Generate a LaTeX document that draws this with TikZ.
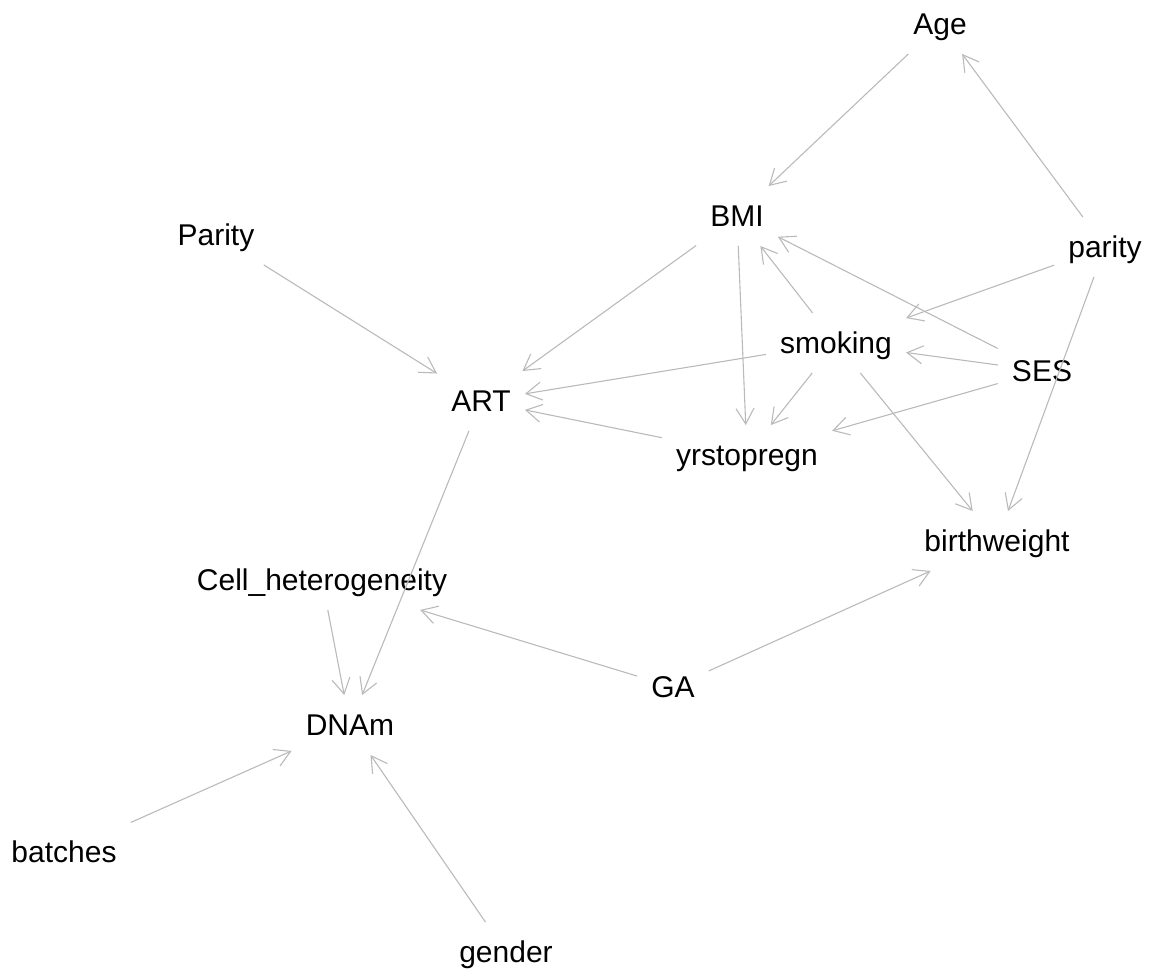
\documentclass[tikz,border=0pt]{standalone}
\usepackage{fontspec}
\setmainfont{Liberation Sans}
\usepackage{xcolor}
\usepackage{tikz}
\usetikzlibrary{arrows.meta}
\begin{document}
\begin{tikzpicture}[x=1pt,y=-1pt]
% Styles
\tikzstyle{fleche}=[->,>={Straight Barb[angle=60:18pt]},line width=1.1pt,color=black!27]
\tikzstyle{noeud}=[rectangle,inner xsep=14pt,inner ysep=19pt,text height=21.5pt,text depth=0pt,font=\fontsize{30}{36}\selectfont]
% Cadre
\useasboundingbox (0,0) rectangle (1151,977);
% Noeuds
\node[noeud] (Age) at (940,24) {Age};
\node[noeud] (BMI) at (737,216) {BMI};
\node[noeud] (Parity) at (216,235) {Parity};
\node[noeud] (parity) at (1105,247) {parity};
\node[noeud] (smoking) at (836,343) {smoking};
\node[noeud] (SES) at (1042,371) {SES};
\node[noeud] (ART) at (481,401) {ART};
\node[noeud] (yrstopregn) at (747,455) {yrstopregn};
\node[noeud] (birthweight) at (997,541) {birthweight};
\node[noeud] (Cell) at (322,580) {Cell\_heterogeneity};
\node[noeud] (GA) at (673,687) {GA};
\node[noeud] (DNAm) at (350,725) {DNAm};
\node[noeud] (batches) at (64,852) {batches};
\node[noeud] (gender) at (506,952) {gender};
% Arcs
\draw[fleche] (Age)--(BMI);
\draw[fleche] (parity)--(Age);
\draw[fleche] (parity)--(smoking);
\draw[fleche] (parity)--(birthweight);
\draw[fleche] (BMI)--(ART);
\draw[fleche] (BMI)--(yrstopregn);
\draw[fleche] (smoking)--(BMI);
\draw[fleche] (SES)--(BMI);
\draw[fleche] (SES)--(smoking);
\draw[fleche] (SES)--(yrstopregn);
\draw[fleche] (smoking)--(ART);
\draw[fleche] (smoking)--(yrstopregn);
\draw[fleche] (smoking)--(birthweight);
\draw[fleche] (yrstopregn)--(ART);
\draw[fleche] (Parity)--(ART);
\draw[fleche] (ART)--(DNAm);
\draw[fleche] (Cell)--(DNAm);
\draw[fleche] (GA)--(Cell);
\draw[fleche] (GA)--(birthweight);
\draw[fleche] (batches)--(DNAm);
\draw[fleche] (gender)--(DNAm);
\end{tikzpicture}
\end{document}
